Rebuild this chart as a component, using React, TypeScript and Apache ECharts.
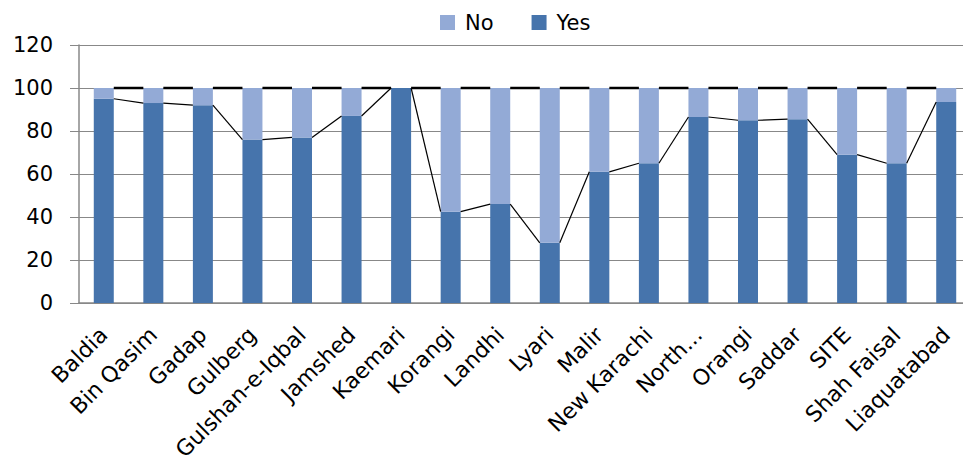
import React, { useEffect, useRef } from "react";
import * as echarts from "echarts";

const categories = [
  "Baldia", "Bin Qasim", "Gadap", "Gulberg", "Gulshan-e-Iqbal", "Jamshed",
  "Kaemari", "Korangi", "Landhi", "Lyari", "Malir", "New Karachi",
  "North...", "Orangi", "Saddar", "SITE", "Shah Faisal", "Liaquatabad",
];
const yesValues = [95, 93, 92, 76, 77, 87, 100, 42.5, 46, 28, 61, 65, 86.5, 85, 85.5, 69, 65, 93.5];
const noValues = yesValues.map((v) => 100 - v);
const yTicks = [0, 20, 40, 60, 80, 100, 120];

const BAR_W = 20;

export default function App() {
  const ref = useRef<HTMLDivElement>(null);
  useEffect(() => {
    if (!ref.current) return;
    const chart = echarts.init(ref.current, null, { renderer: "svg" });
    const font = "DejaVu Sans";
    const yesLine = yesValues.slice(0, -1).map((v, i) => [i, v, yesValues[i + 1]]);
    const totals = yesValues.map((v, i) => v + noValues[i]);
    const totalLine = totals.slice(0, -1).map((v, i) => [i, v, totals[i + 1]]);
    const renderSeriesLine = (lw: number) => (params: any, api: any) => {
      const i = api.value(0);
      const p0 = api.coord([i, api.value(1)]);
      const p1 = api.coord([i + 1, api.value(2)]);
      return {
        type: "line",
        shape: { x1: p0[0] + BAR_W / 2, y1: p0[1], x2: p1[0] - BAR_W / 2, y2: p1[1] },
        style: { stroke: "#000", lineWidth: lw },
      };
    };
    chart.setOption({
      animation: false,
      textStyle: { fontFamily: font },
      legend: {
        left: 435,
        top: 7,
        itemWidth: 15,
        itemHeight: 15,
        itemGap: 38,
        icon: "rect",
        data: ["No", "Yes"],
        textStyle: { fontSize: 21, color: "#000", fontFamily: font, padding: [0, 0, 0, 5] },
      },
      grid: { left: 79, right: -8, top: 45, bottom: 162, containLabel: false },
      xAxis: {
        type: "category",
        data: categories,
        axisLine: { lineStyle: { color: "#888", width: 1.5 } },
        axisTick: { show: false },
        axisLabel: {
          rotate: 45,
          interval: 0,
          margin: 28,
          fontSize: 22,
          color: "#000",
          fontFamily: font,
        },
      },
      yAxis: {
        type: "value",
        min: yTicks[0],
        max: yTicks[yTicks.length - 1],
        interval: 20,
        axisLine: { show: true, lineStyle: { color: "#888", width: 1.5 } },
        axisTick: { show: true, length: 9, lineStyle: { color: "#888" } },
        splitLine: { lineStyle: { color: "#888", width: 1 } },
        axisLabel: { fontSize: 21, color: "#000", margin: 26, fontFamily: font },
      },
      series: [
        {
          name: "Yes",
          type: "bar",
          stack: "t",
          barWidth: BAR_W,
          data: yesValues,
          itemStyle: { color: "#4674AC" },
        },
        {
          name: "No",
          type: "bar",
          stack: "t",
          barWidth: BAR_W,
          data: noValues,
          itemStyle: { color: "#93AAD6" },
        },
        {
          type: "custom",
          renderItem: renderSeriesLine(1.2),
          data: yesLine,
          encode: { x: 0, y: 1 },
          z: 5,
          silent: true,
        },
        {
          type: "custom",
          renderItem: renderSeriesLine(2.5),
          data: totalLine,
          encode: { x: 0, y: 1 },
          z: 5,
          silent: true,
        },
      ],
    });
    return () => chart.dispose();
  }, []);
  return <div ref={ref} style={{ width: 971, height: 465, margin: -8 }} />;
}
